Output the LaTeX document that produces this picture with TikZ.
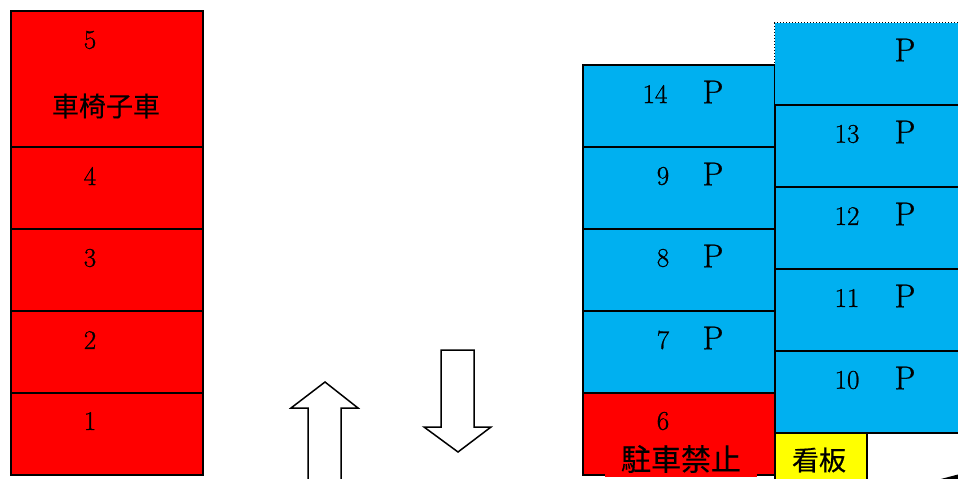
\documentclass[tikz,border=0pt]{standalone}
\usepackage{fontspec}
\newfontfamily\jpfont[FakeBold=0.4]{Noto Sans CJK JP}
\newfontfamily\numfont[FakeBold=0.8]{Latin Modern Roman}
\definecolor{slotred}{HTML}{FF0000}
\definecolor{slotblue}{HTML}{00B0F0}
\definecolor{signyellow}{HTML}{FFFF00}
\begin{document}
\begin{tikzpicture}[x=1pt,y=-1pt,
  slot/.style={draw=black,line width=1.5pt,anchor=north west,inner sep=0pt},
  redslot/.style={slot,fill=slotred},
  blueslot/.style={slot,fill=slotblue},
  num/.style={font=\numfont\fontsize{27}{27}\selectfont,inner sep=0pt},
  pmark/.style={font=\numfont\fontsize{33}{33}\selectfont,inner sep=0pt},
  jp/.style={font=\jpfont\fontsize{27}{27}\selectfont,inner sep=0pt},
  bigarrow/.style={draw=black,line width=1.5pt,fill=white,line join=miter}]
\useasboundingbox (0,0) rectangle (958,479);
% left column
\node[redslot,minimum width=192pt,minimum height=136pt] (r5) at (10,10) {};
\node[redslot,minimum width=192pt,minimum height=82pt] (r4) at (10,146) {};
\node[redslot,minimum width=192pt,minimum height=82pt] (r3) at (10,228) {};
\node[redslot,minimum width=192pt,minimum height=82pt] (r2) at (10,310) {};
\node[redslot,minimum width=192pt,minimum height=82pt] (r1) at (10,392) {};
\node[num] (t5) at (90,40) {5};
\node[jp] (twc) at (106,106) {車椅子車};
\node[num] (t4) at (90,176) {4};
\node[num] (t3) at (90,258) {3};
\node[num] (t2) at (90,340) {2};
\node[num] (t1) at (90,421) {1};
% middle column
\node[blueslot,minimum width=192pt,minimum height=82pt] (b14) at (582,64) {};
\node[blueslot,minimum width=192pt,minimum height=82pt] (b9) at (582,146) {};
\node[blueslot,minimum width=192pt,minimum height=82pt] (b8) at (582,228) {};
\node[blueslot,minimum width=192pt,minimum height=82pt] (b7) at (582,310) {};
\node[redslot,minimum width=192pt,minimum height=82pt] (r6) at (582,392) {};
\node[num] (t14) at (655,94) {14};
\node[pmark] (p14) at (713,92) {P};
\node[num] (t9) at (663,176) {9};
\node[pmark] (p9) at (713,174) {P};
\node[num] (t8) at (663,258) {8};
\node[pmark] (p8) at (713,256) {P};
\node[num] (t7) at (663,340) {7};
\node[pmark] (p7) at (713,338) {P};
\node[num] (t6) at (663,421) {6};
\node[jp,font=\jpfont\fontsize{30}{30}\selectfont,fill=slotred,inner xsep=16pt,inner ysep=4pt] (tnp) at (681,459) {駐車禁止};
% right column
\node[anchor=north west,inner sep=0pt,fill=slotblue,draw=black,dotted,line width=1pt,minimum width=220pt,minimum height=82pt] (btop) at (774,22) {};
\node[blueslot,minimum width=220pt,minimum height=82pt] (b13) at (774,104) {};
\node[blueslot,minimum width=220pt,minimum height=82pt] (b12) at (774,186) {};
\node[blueslot,minimum width=220pt,minimum height=82pt] (b11) at (774,268) {};
\node[blueslot,minimum width=220pt,minimum height=82pt] (b10) at (774,350) {};
\draw[black,dotted,line width=1pt] (btop.north west) -- (btop.north east);
\node[pmark] (ptop) at (905,50) {P};
\node[num] (t13) at (847,134) {13};
\node[pmark] (p13) at (905,132) {P};
\node[num] (t12) at (847,216) {12};
\node[pmark] (p12) at (905,214) {P};
\node[num] (t11) at (847,298) {11};
\node[pmark] (p11) at (905,296) {P};
\node[num] (t10) at (847,380) {10};
\node[pmark] (p10) at (905,378) {P};
% sign
\node[slot,fill=signyellow,minimum width=92pt,minimum height=60pt] (sign) at (774,432) {};
\node[jp] (tsign) at (819,460) {看板};
% arrows
\draw[bigarrow] (308,485) -- (308,408) -- (291,408) -- (325,382) -- (358,408) -- (341,408) -- (341,485);
\draw[bigarrow] (441,350) -- (474,350) -- (474,427) -- (491,427) -- (458,452) -- (424,427) -- (441,427) -- cycle;
% partial curve at bottom right
\fill[black] (937,480) -- (958,474.5) -- (958,480) -- cycle;
\end{tikzpicture}
\end{document}
